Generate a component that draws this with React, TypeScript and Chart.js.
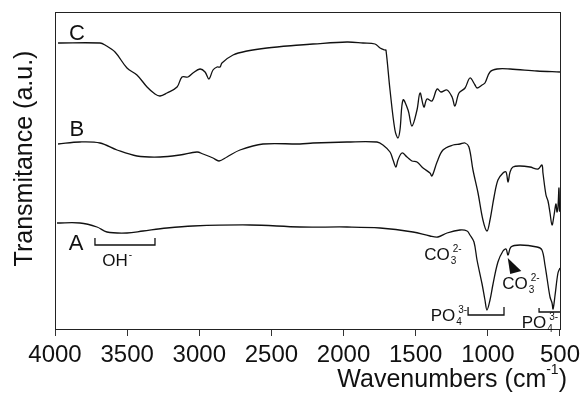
import React, { useEffect, useRef } from 'react';
import { Chart, registerables } from 'chart.js';

Chart.register(...registerables);

// Wavenumber (cm-1) and transmittance (a.u., offset traces)
const wnC = [3979, 3688, 3653, 3584, 3501, 3432, 3362, 3307, 3272, 3224, 3154, 3120, 3078, 3044, 2995, 2960, 2933, 2905, 2877, 2856, 2843, 2766, 2669, 2531, 2302, 2212, 1976, 1865, 1782, 1747, 1713, 1706, 1678, 1644, 1623, 1609, 1588, 1553, 1526, 1491, 1470, 1443, 1422, 1387, 1352, 1325, 1283, 1248, 1228, 1200, 1158, 1124, 1089, 1075, 1040, 1020, 985, 936, 846, 659, 500];
const tC = [286, 286, 284, 277, 261, 254, 242, 235, 233, 236, 242, 252, 252, 256, 260, 257, 250, 259, 262, 262, 266, 274, 278, 281, 284, 285, 287, 286, 285, 281, 279, 279, 239, 199, 191, 199, 229, 219, 203, 219, 236, 222, 230, 228, 240, 237, 239, 232, 223, 236, 241, 251, 244, 241, 244, 246, 257, 260, 260, 258, 257];

const wnB = [3979, 3827, 3688, 3570, 3432, 3272, 3134, 3016, 2974, 2905, 2863, 2808, 2718, 2558, 2302, 2212, 1976, 1768, 1727, 1678, 1657, 1637, 1623, 1595, 1560, 1526, 1491, 1449, 1401, 1387, 1352, 1311, 1241, 1193, 1158, 1131, 1103, 1068, 1034, 1006, 985, 957, 930, 895, 874, 860, 846, 826, 777, 708, 652, 625, 618, 597, 583, 569, 555, 541, 528, 521, 514, 507, 503, 500];
const tB = [185, 187, 186, 179, 173, 172, 174, 177, 175, 171, 168, 172, 179, 185, 185, 186, 187, 187, 184, 177, 169, 162, 169, 176, 172, 168, 167, 161, 156, 153, 167, 179, 184, 185, 186, 182, 159, 136, 109, 98, 109, 132, 149, 156, 157, 147, 157, 162, 163, 162, 160, 164, 156, 134, 128, 116, 104, 114, 125, 117, 122, 141, 118, 124];

const wnA = [3986, 3827, 3709, 3640, 3501, 3390, 3224, 3044, 2648, 2302, 1976, 1747, 1519, 1401, 1346, 1283, 1193, 1144, 1124, 1096, 1075, 1040, 1020, 1006, 985, 964, 930, 895, 874, 860, 840, 777, 659, 625, 604, 590, 569, 555, 548, 534, 514, 500];
const tA = [106, 106, 102, 97, 96, 98, 101, 103, 104, 102, 102, 101, 97, 93, 92, 96, 99, 98, 94, 87, 69, 45, 29, 19, 29, 45, 67, 78, 80, 74, 82, 84, 82, 79, 64, 51, 32, 26, 20, 34, 56, 61];

const xTicks = [4000, 3500, 3000, 2500, 2000, 1500, 1000, 500];

const FONT = '"Liberation Sans", Arial, Helvetica, sans-serif';

type Part = { t: string; size: number; dy?: number; dx?: number; stack?: boolean };

function drawParts(ctx: CanvasRenderingContext2D, parts: Part[], cx: number, baseY: number) {
  ctx.font = `${parts[0].size}px ${FONT}`;
  const mainW = ctx.measureText(parts[0].t).width;
  let x = cx - mainW / 2;
  let prevX = x;
  for (const p of parts) {
    ctx.font = `${p.size}px ${FONT}`;
    const mw = ctx.measureText(p.t).width;
    const px = p.stack ? prevX : x;
    ctx.fillText(p.t, px + (p.dx || 0), baseY + (p.dy || 0));
    if (!p.stack) {
      prevX = x;
      x += mw;
    }
  }
}

const decorPlugin = {
  id: 'decor',
  afterDraw(chart: any) {
    const { ctx, chartArea: ca, scales } = chart;
    const xs = scales.x;
    const ys = scales.y;
    const X = (v: number) => xs.getPixelForValue(v);
    const Y = (v: number) => ys.getPixelForValue(v);
    ctx.save();
    // frame
    ctx.strokeStyle = '#222';
    ctx.lineWidth = 1;
    ctx.strokeRect(Math.round(ca.left) + 0.5, Math.round(ca.top) + 0.5, Math.round(ca.right - ca.left), Math.round(ca.bottom - ca.top));

    ctx.fillStyle = '#111';
    ctx.textBaseline = 'alphabetic';
    ctx.textAlign = 'left';

    // trace letters
    ctx.font = `22px ${FONT}`;
    ctx.textAlign = 'center';
    ctx.fillText('C', X(3848), Y(297) + 8);
    ctx.fillText('B', X(3848), Y(201) + 8);
    ctx.fillText('A', X(3854), Y(87) + 8);
    ctx.textAlign = 'left';

    // brackets
    ctx.strokeStyle = '#111';
    ctx.lineWidth = 1.3;
    const bracket = (a: number, b: number, v: number, top: number, leftOnly = false) => {
      ctx.beginPath();
      ctx.moveTo(X(a), Y(top));
      ctx.lineTo(X(a), Y(v));
      ctx.lineTo(X(b), Y(v));
      if (!leftOnly) ctx.lineTo(X(b), Y(top));
      ctx.stroke();
    };
    bracket(3723, 3307, 84, 91);
    bracket(1137, 888, 14, 22);
    bracket(645, 500, 17, 21, true);

    // OH-
    drawParts(ctx, [
      { t: 'OH', size: 17 },
      { t: '-', size: 10, dy: -8, dx: 1 },
    ], X(3584), Y(69) + 6);

    // CO3 2- labels
    const co3 = (wn: number, v: number) =>
      drawParts(ctx, [
        { t: 'CO', size: 17 },
        { t: '3', size: 10, dy: 4, dx: 1 },
        { t: '2-', size: 10, dy: -8, dx: 3, stack: true },
      ], X(wn), Y(v) + 6);
    co3(1352, 75);
    co3(812, 46);

    // PO4 3- labels
    const po4 = (wn: number, v: number) =>
      drawParts(ctx, [
        { t: 'PO', size: 17 },
        { t: '4', size: 10, dy: 4, dx: 1 },
        { t: '3-', size: 10, dy: -8, dx: 3, stack: true },
      ], X(wn), Y(v) + 6);
    po4(1311, 14);
    po4(680, 7);

    // arrow head
    ctx.beginPath();
    ctx.moveTo(X(862), Y(71));
    ctx.lineTo(X(845), Y(55));
    ctx.lineTo(X(768), Y(58));
    ctx.closePath();
    ctx.fill();

    // axis titles
    ctx.font = `25px ${FONT}`;
    const t1 = 'Wavenumbers (cm';
    const w1 = ctx.measureText(t1).width;
    ctx.font = `14px ${FONT}`;
    const w2 = ctx.measureText('-1').width;
    ctx.font = `25px ${FONT}`;
    const w3 = ctx.measureText(')').width;
    const right = ca.right + 7;
    const startX = right - (w1 + w2 + w3);
    const base = 387;
    ctx.fillText(t1, startX, base);
    ctx.font = `14px ${FONT}`;
    ctx.fillText('-1', startX + w1, base - 13);
    ctx.font = `25px ${FONT}`;
    ctx.fillText(')', startX + w1 + w2, base);

    ctx.save();
    ctx.translate(25, (ca.top + ca.bottom) / 2 - 12);
    ctx.rotate(-Math.PI / 2);
    ctx.textAlign = 'center';
    ctx.textBaseline = 'middle';
    ctx.font = `25px ${FONT}`;
    ctx.fillText('Transmitance (a.u.)', 0, 0);
    ctx.restore();

    ctx.restore();
  },
};

function toPoints(wn: number[], t: number[]) {
  return wn.map((w, i) => ({ x: w, y: t[i] }));
}

export default function App() {
  const ref = useRef<HTMLCanvasElement | null>(null);
  useEffect(() => {
    if (!ref.current) return;
    const ds = (data: { x: number; y: number }[]) => ({
      data,
      borderColor: '#111',
      borderWidth: 1.3,
      pointRadius: 0,
      fill: false,
      tension: 0.35,
    });
    const chart = new Chart(ref.current, {
      type: 'line',
      data: {
        datasets: [ds(toPoints(wnC, tC)), ds(toPoints(wnB, tB)), ds(toPoints(wnA, tA))],
      },
      options: {
        animation: false,
        responsive: true,
        maintainAspectRatio: false,
        layout: { padding: { left: 55, right: 25, top: 12, bottom: 0 } },
        plugins: { legend: { display: false }, tooltip: { enabled: false } },
        events: [],
        scales: {
          x: {
            type: 'linear',
            reverse: true,
            min: 500,
            max: 4000,
            afterFit: (scale: any) => {
              scale.height = 76;
            },
            afterBuildTicks: (scale: any) => {
              scale.ticks = xTicks.map((v) => ({ value: v }));
            },
            ticks: {
              color: '#111',
              padding: 5,
              maxRotation: 0,
              autoSkip: false,
              font: { family: FONT, size: 24 },
              callback: (v: any) => String(v),
            },
            grid: {
              display: true,
              drawOnChartArea: false,
              drawTicks: true,
              tickLength: 7,
              color: '#333',
            },
            border: { display: true, color: '#222', width: 1 },
          },
          y: {
            display: false,
            min: 0,
            max: 317,
          },
        },
      },
      plugins: [decorPlugin],
    });
    return () => chart.destroy();
  }, []);
  return (
    <div style={{ position: 'fixed', left: 0, top: 0, width: 585, height: 405, background: '#fff' }}>
      <canvas ref={ref} />
    </div>
  );
}
